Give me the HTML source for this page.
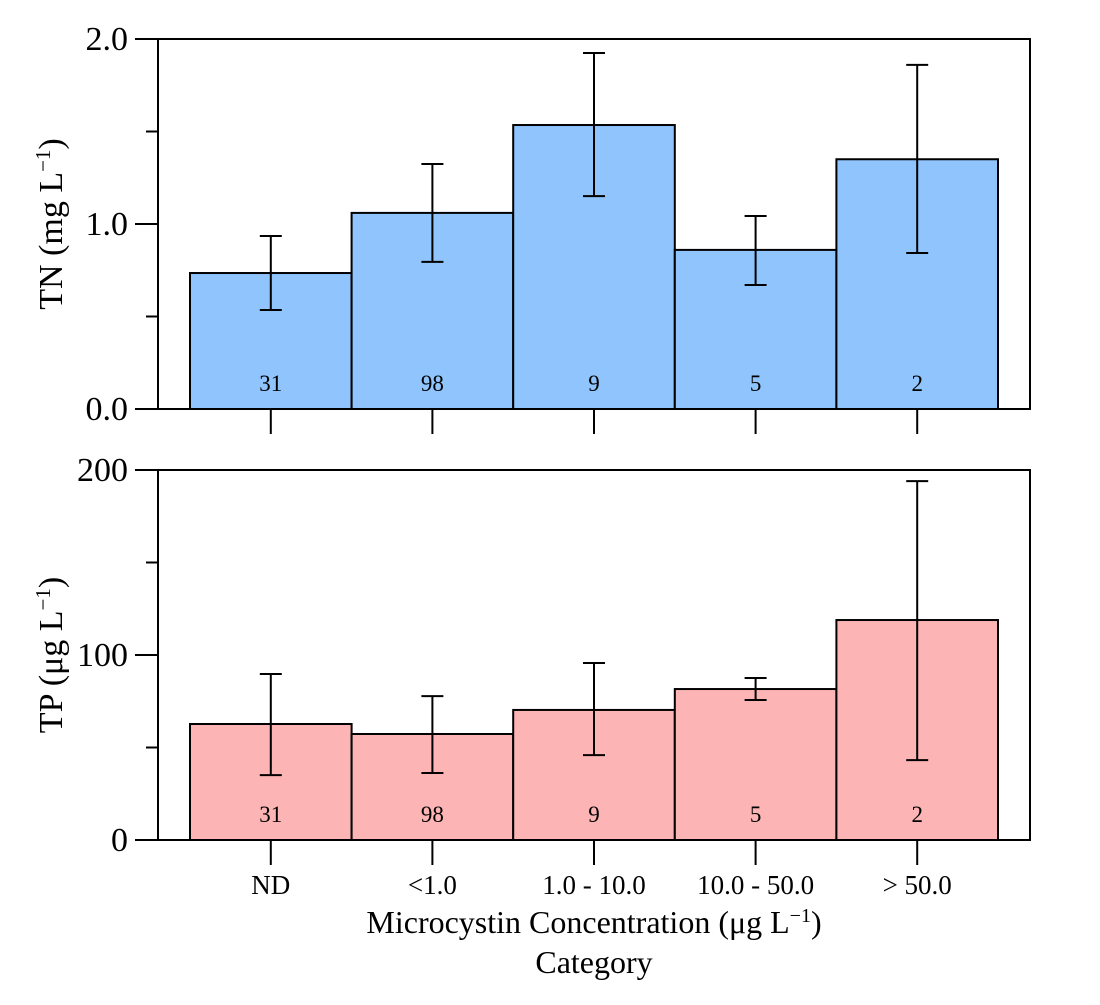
<!DOCTYPE html>
<html><head><meta charset="utf-8"><style>
body{margin:0;background:#fff}
svg text{font-family:"Liberation Serif",serif;fill:#000}
</style></head><body>
<svg id="c" width="1100" height="1000" viewBox="0 0 1100 1000" xmlns="http://www.w3.org/2000/svg"></svg>
<script>
const categories=["ND","<1.0","1.0 - 10.0","10.0 - 50.0","> 50.0"];
const counts=[31,98,9,5,2];
const tnMean=[0.735,1.06,1.535,0.86,1.35];
const tnHi=[0.935,1.324,1.924,1.043,1.86];
const tnLo=[0.535,0.795,1.151,0.67,0.843];
const tpMean=[62.7,57.3,70.3,81.6,118.9];
const tpHi=[89.7,77.8,95.7,87.6,194];
const tpLo=[35.1,36.2,45.9,75.7,43.2];
const tnTicks=["0.0","1.0","2.0"];
const tpTicks=["0","100","200"];

const svg=document.getElementById('c');
const NS="http://www.w3.org/2000/svg";
function el(t,a,p){const e=document.createElementNS(NS,t);for(const k in a)e.setAttribute(k,a[k]);(p||svg).appendChild(e);return e;}
const X0=190,BW=(998-190)/5;
const xc=i=>X0+BW*(i+0.5);

function panel(name,top,bottom,max,mean,hi,lo,color,ticks,title,showX){
  const g=el('g',{});
  
  
  const y=v=>bottom-(bottom-top)*v/max;
  mean.forEach((m,i)=>{
    const r=el('rect',{x:X0+BW*i,y:y(m),width:BW,height:bottom-y(m),fill:color,stroke:'#000','stroke-width':2},g);
    
    
  });
  mean.forEach((m,i)=>{
    const e=el('path',{d:`M${xc(i)},${y(hi[i])}V${y(lo[i])}M${xc(i)-11},${y(hi[i])}H${xc(i)+11}M${xc(i)-11},${y(lo[i])}H${xc(i)+11}`,stroke:'#000','stroke-width':2,fill:'none'},g);
    
    
    const t=el('text',{x:xc(i),y:bottom-18,'text-anchor':'middle','font-size':23},g);
    t.textContent=counts[i];
    
    
  });
  const f=el('rect',{x:158,y:top,width:872,height:bottom-top,fill:'none',stroke:'#000','stroke-width':2},g);
  
  
  ticks.forEach((lab,k)=>{
    const v=max*k/(ticks.length-1);
    el('line',{x1:135,x2:158,y1:y(v),y2:y(v),stroke:'#000','stroke-width':2},g);
    const t=el('text',{x:128,y:y(v)+11,'text-anchor':'end','font-size':34},g);
    t.textContent=lab;
    
    
    if(k<ticks.length-1){const vm=v+max/(ticks.length-1)/2;
      el('line',{x1:146,x2:158,y1:y(vm),y2:y(vm),stroke:'#000','stroke-width':2},g);}
  });
  categories.forEach((c,i)=>{
    el('line',{x1:xc(i),x2:xc(i),y1:bottom,y2:bottom+25,stroke:'#000','stroke-width':2},g);
    if(showX){const t=el('text',{x:xc(i),y:894,'text-anchor':'middle','font-size':27},g);
      t.textContent=c;
      
      }
  });
  const mid=(top+bottom)/2;
  const tt=el('text',{x:0,y:0,'text-anchor':'middle','font-size':34,transform:`translate(62,${mid}) rotate(-90)`},g);
  tt.innerHTML=title;
  
  
}
panel('tn',39,409,2,tnMean,tnHi,tnLo,'#8fc4fd',tnTicks,'TN (mg L<tspan dy="-12" font-size="21">−1</tspan><tspan dy="12">)</tspan>',false);
panel('tp',470,840,200,tpMean,tpHi,tpLo,'#fdb4b4',tpTicks,'TP (μg L<tspan dy="-12" font-size="21">−1</tspan><tspan dy="12">)</tspan>',true);
const x1=el('text',{x:594,y:933,'text-anchor':'middle','font-size':32});
x1.innerHTML='Microcystin Concentration (μg L<tspan dy="-11" font-size="20">−1</tspan><tspan dy="11">)</tspan>';


const x2=el('text',{x:594,y:973,'text-anchor':'middle','font-size':32});
x2.textContent='Category';


</script>
</body></html>
